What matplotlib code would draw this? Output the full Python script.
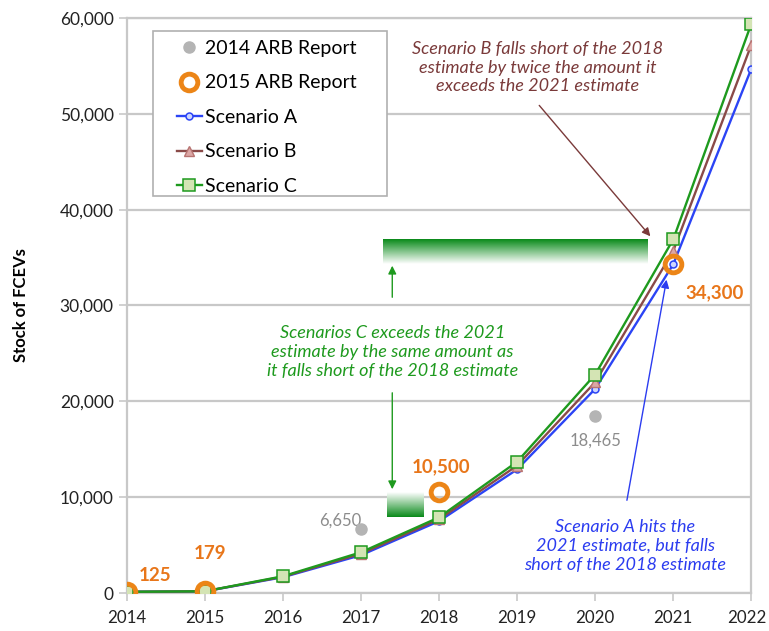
import numpy as np
import matplotlib.pyplot as plt
import matplotlib.transforms as mtransforms
from matplotlib.colors import LinearSegmentedColormap
from matplotlib.patches import Rectangle

plt.rcParams['font.family'] = ['Lato', 'DejaVu Sans']

# =========================
# DATA
# =========================
years = [2014, 2015, 2016, 2017, 2018, 2019, 2020, 2021, 2022]
scenario_a = [125, 179, 1650, 3950, 7500, 12900, 21300, 34300, 54700]
scenario_b = [125, 179, 1700, 4100, 7700, 13300, 22000, 35700, 57200]
scenario_c = [125, 179, 1750, 4250, 7900, 13700, 22800, 36900, 59400]

arb2014_years = [2017, 2020]
arb2014_vals = [6650, 18465]
arb2015_years = [2014, 2015, 2018, 2021]
arb2015_vals = [125, 179, 10500, 34300]

# gap shown by the green bars (2018 shortfall of scenario C)
gap_c = arb2015_vals[2] - scenario_c[4]

# =========================
# FIGURE
# =========================
fig = plt.figure(figsize=(7.69, 6.31), dpi=100)
ax = fig.add_axes([0.165, 0.0602, 0.812, 0.9113])

grid_c = '#c8c8c8'
ax.set_xlim(2014, 2022)
ax.set_ylim(0, 60000)
ax.set_yticks(range(0, 60001, 10000))
ax.set_yticklabels([f'{v:,}' for v in range(0, 60001, 10000)])
ax.set_xticks(years)
ax.yaxis.grid(True, color=grid_c, lw=1.6)
ax.set_axisbelow(True)
for s in ax.spines.values():
    s.set_color(grid_c)
    s.set_linewidth(1.6)
ax.tick_params(colors=grid_c, labelcolor='#222222', labelsize=12.5, length=6, width=1.2)
ax.tick_params(axis='x', pad=6, labelsize=12.2)
ax.set_ylabel('Stock of FCEVs', fontsize=12, fontweight='bold', labelpad=22)

# keep the last year label inside the figure
last = ax.get_xticklabels()[-1]
last.set_transform(last.get_transform() +
                   mtransforms.ScaledTranslation(-3 / 72, 0, fig.dpi_scale_trans))

# gradient bars
green_cm = LinearSegmentedColormap.from_list('g', ['#ffffff', '#0a8a1a'])
grad = np.linspace(0, 1, 100).reshape(-1, 1)
ax.imshow(grad, cmap=green_cm, aspect='auto', origin='lower', zorder=1,
          extent=(2017.28, 2020.67, arb2015_vals[3], arb2015_vals[3] + gap_c))
ax.imshow(grad[::-1], cmap=green_cm, aspect='auto', origin='lower', zorder=1,
          extent=(2017.33, 2017.8, scenario_c[4], arb2015_vals[2]))

# scenario lines
ax.plot(years, scenario_a, color='#2b44f5', lw=1.7, marker='o', ms=5,
        mfc='#cdd6ff', mec='#2b44f5', mew=1.1, label='Scenario A', zorder=4)
ax.plot(years, scenario_b, color='#8a4a48', lw=1.7, marker='^', ms=7,
        mfc='#dca7a5', mec='#b87472', mew=1.0, label='Scenario B', zorder=4)
ax.plot(years, scenario_c, color='#1e9a1e', lw=1.7, marker='s', ms=8,
        mfc='#d4e4b4', mec='#1e9a1e', mew=1.1, label='Scenario C', zorder=4)

ax.plot(arb2014_years, arb2014_vals, 'o', color='#b4b4b4', ms=8,
        label='2014 ARB Report', zorder=5)
ax.plot(arb2015_years, arb2015_vals, 'o', ms=12, mfc='none', mec='#ec8517',
        mew=3.5, label='2015 ARB Report', zorder=5)

# legend: frame drawn separately so padding matches
ax.add_patch(Rectangle((0.0417, 0.6904), 0.375, 0.287, transform=ax.transAxes,
                       facecolor='white', edgecolor='#b0b0b0', lw=1.2, zorder=6))
handles, labels = ax.get_legend_handles_labels()
order = [3, 4, 0, 1, 2]
leg = ax.legend([handles[i] for i in order], [labels[i] for i in order],
                loc='upper left', bbox_to_anchor=(0.08, 0.962), fontsize=14,
                frameon=False, handlelength=1.3, handletextpad=0.15,
                labelspacing=0.9, borderpad=0, borderaxespad=0)
leg.set_zorder(7)

# value labels
orange = '#e8761a'
ax.text(2014.15, 1300, '125', color=orange, fontsize=13.5, fontweight='bold')
ax.text(2014.85, 3600, '179', color=orange, fontsize=13.5, fontweight='bold')
ax.text(2017.65, 12600, '10,500', color=orange, fontsize=13.5, fontweight='bold')
ax.text(2021.15, 30800, '34,300', color=orange, fontsize=13.5, fontweight='bold')
ax.text(2017.0, 7600, '6,650', color='#8c8c8c', fontsize=12, ha='right', va='center')
ax.text(2020.0, 15850, '18,465', color='#8c8c8c', fontsize=12, ha='center', va='center')

# annotations
brown = '#7a3a3a'
ax.text(2019.26, 54800, 'Scenario B falls short of the 2018\nestimate by twice the amount it\nexceeds the 2021 estimate',
        color=brown, fontsize=13, style='italic', ha='center', va='center', linespacing=1.2)
ax.annotate('', xy=(2020.73, 37000), xytext=(2019.26, 51100),
            arrowprops=dict(arrowstyle='-|>', color=brown, lw=1, mutation_scale=12))

green = '#1e9a1e'
ax.text(2017.4, 25150, 'Scenarios C exceeds the 2021\nestimate by the same amount as\nit falls short of the 2018 estimate',
        color=green, fontsize=13, style='italic', ha='center', va='center', linespacing=1.2)
ax.annotate('', xy=(2017.4, 34440), xytext=(2017.4, 30570),
            arrowprops=dict(arrowstyle='-|>', color=green, lw=1, mutation_scale=12))
ax.annotate('', xy=(2017.4, 10540), xytext=(2017.4, 21180),
            arrowprops=dict(arrowstyle='-|>', color=green, lw=1, mutation_scale=12))

blue = '#2b3cf0'
ax.text(2020.385, 4900, 'Scenario A hits the\n2021 estimate, but falls\nshort of the 2018 estimate',
        color=blue, fontsize=13, style='italic', ha='center', va='center', linespacing=1.2)
ax.annotate('', xy=(2020.92, 32980), xytext=(2020.4, 9390),
            arrowprops=dict(arrowstyle='-|>', color=blue, lw=1, mutation_scale=12))

fig.savefig('out.png', dpi=100)
